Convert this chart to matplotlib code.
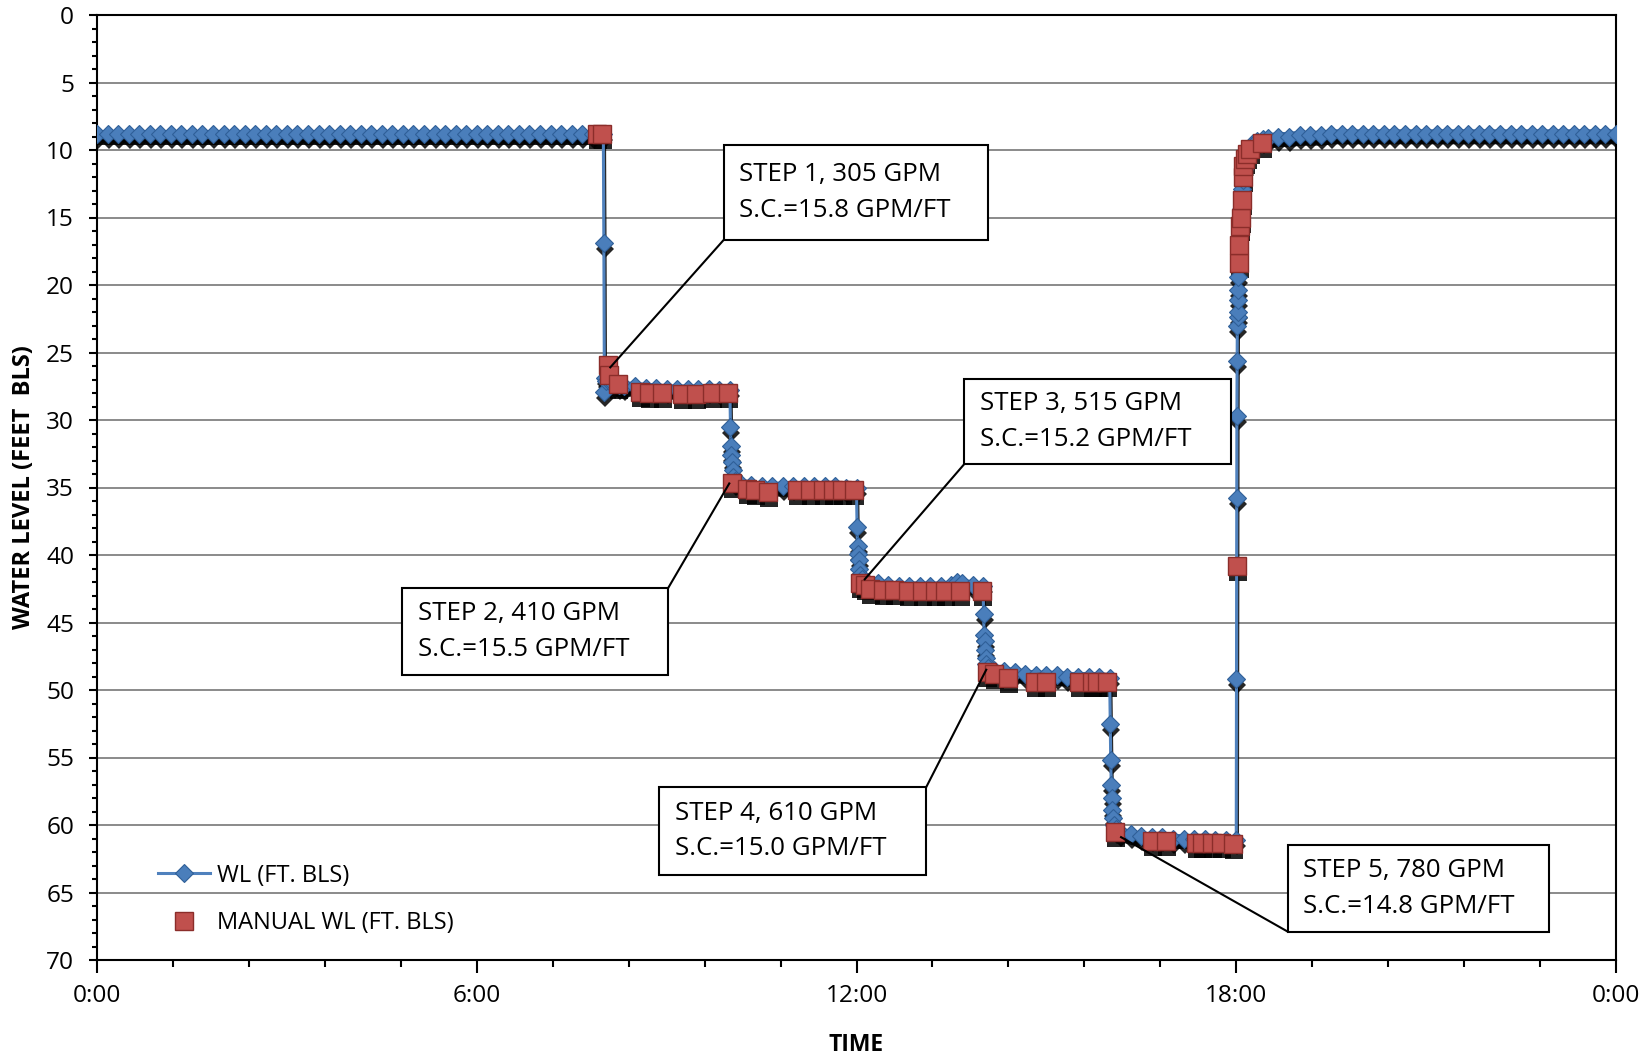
import numpy as np
import matplotlib
matplotlib.use('Agg')
import matplotlib.pyplot as plt
from matplotlib.patches import Rectangle
from matplotlib.ticker import MultipleLocator, FixedLocator, FixedFormatter
from matplotlib.transforms import ScaledTranslation

plt.rcParams['font.family'] = ['Open Sans', 'DejaVu Sans']

# transducer water level, minutes after 0:00 / feet below land surface
static_min = [0, 10, 20, 30, 40, 50, 60, 70, 80, 90, 100, 110, 120, 130, 140, 150,
              160, 170, 180, 190, 200, 210, 220, 230, 240, 250, 260, 270, 280, 290,
              300, 310, 320, 330, 340, 350, 360, 370, 380, 390, 400, 410, 420, 430,
              440, 450, 460, 470, 480]
static_wl = [8.8, 8.8, 8.8, 8.8, 8.8, 8.8, 8.8, 8.8, 8.8, 8.8, 8.8, 8.8, 8.8, 8.8,
             8.8, 8.8, 8.8, 8.8, 8.8, 8.8, 8.8, 8.8, 8.8, 8.8, 8.8, 8.8, 8.8, 8.8,
             8.8, 8.8, 8.8, 8.8, 8.8, 8.8, 8.8, 8.8, 8.8, 8.8, 8.8, 8.8, 8.8, 8.8,
             8.8, 8.8, 8.8, 8.8, 8.8, 8.8, 8.8]

step1_min = [480.5, 481, 481.5, 483, 486, 490, 495, 500, 510, 520, 530, 540, 550,
             560, 570, 580, 590, 600]
step1_wl = [16.9, 27.9, 26.9, 27.1, 27.2, 27.3, 27.4, 27.5, 27.5, 27.6, 27.6, 27.7,
            27.7, 27.7, 27.7, 27.7, 27.8, 27.8]

step2_min = [600.5, 601, 601.5, 602, 602.5, 603, 605, 610, 620, 630, 640, 650, 660,
             670, 680, 690, 700, 710, 720]
step2_wl = [30.5, 31.9, 32.6, 33.1, 33.7, 34.2, 34.5, 34.7, 34.8, 34.9, 34.9, 34.9,
            34.9, 34.9, 34.9, 34.9, 34.9, 35.0, 35.0]

step3_min = [720.5, 721, 721.5, 722, 722.5, 723, 725, 730, 740, 750, 760, 770, 780,
             790, 800, 810, 815, 820, 830, 840]
step3_wl = [37.9, 39.3, 39.9, 40.4, 41.0, 41.5, 41.8, 42.0, 42.1, 42.2, 42.3, 42.3,
            42.3, 42.3, 42.3, 42.2, 42.0, 42.1, 42.2, 42.3]

step4_min = [840.5, 841, 841.5, 842, 842.5, 843, 845, 850, 860, 870, 880, 890, 900,
             910, 920, 930, 940, 950, 960]
step4_wl = [44.4, 45.9, 46.4, 47.0, 47.6, 48.1, 48.4, 48.5, 48.6, 48.7, 48.8, 48.9,
            48.9, 48.9, 49.0, 49.0, 49.0, 49.0, 49.1]

step5_min = [960.5, 961, 961.5, 962, 962.5, 963, 964, 966, 970, 980, 990, 1000,
             1010, 1020, 1030, 1040, 1050, 1060, 1070, 1080]
step5_wl = [52.5, 55.2, 57.0, 58.0, 58.9, 59.5, 60.0, 60.3, 60.5, 60.7, 60.8, 60.9,
            60.9, 61.0, 61.0, 61.0, 61.0, 61.1, 61.1, 61.1]

recov_min = [1080.2, 1080.4, 1080.6, 1080.8, 1081, 1081.2, 1081.4, 1081.6, 1081.8,
             1082, 1082.5, 1083, 1083.5, 1084, 1084.5, 1085, 1085.5, 1086, 1087,
             1088, 1090, 1093, 1096, 1100, 1105, 1110, 1120, 1130, 1140, 1150, 1160,
             1170, 1180, 1190, 1200, 1210, 1220, 1230, 1240, 1250, 1260, 1270, 1280,
             1290, 1300, 1310, 1320, 1330, 1340, 1350, 1360, 1370, 1380, 1390, 1400,
             1410, 1420, 1430, 1440]
recov_wl = [49.2, 35.8, 29.7, 25.6, 23.0, 22.4, 22.0, 21.1, 20.4, 19.4, 18.4, 17.2,
            16.2, 15.2, 14.4, 13.6, 12.9, 12.2, 11.4, 10.8, 10.2, 9.8, 9.5, 9.3, 9.2,
            9.1, 9.0, 9.0, 8.9, 8.9, 8.9, 8.8, 8.8, 8.8, 8.8, 8.8, 8.8, 8.8, 8.8,
            8.8, 8.8, 8.8, 8.8, 8.8, 8.8, 8.8, 8.8, 8.8, 8.8, 8.8, 8.8, 8.8, 8.8,
            8.8, 8.8, 8.8, 8.8, 8.8, 8.8]

# manual tape readings
manual_min = [474, 479,
              484, 485, 494, 515, 523, 536, 555, 568, 583, 598,
              602, 616, 624, 636, 664, 676, 688, 698, 706, 718,
              723, 728, 733, 745, 756, 769, 782, 794, 804, 818, 839,
              844, 850, 864, 889, 900, 931, 943, 948, 957,
              965, 1000, 1013, 1042, 1048, 1057, 1066, 1077,
              1081, 1082.5, 1083, 1083.8, 1084.2, 1085, 1086, 1086.6, 1088, 1090,
              1093, 1104]
manual_wl = [8.8, 8.8,
             25.9, 26.7, 27.3, 27.9, 28.0, 28.0, 28.1, 28.1, 28.0, 28.0,
             34.7, 35.1, 35.2, 35.3, 35.2, 35.2, 35.2, 35.2, 35.2, 35.2,
             42.1, 42.2, 42.5, 42.6, 42.6, 42.7, 42.7, 42.7, 42.7, 42.7, 42.7,
             48.7, 48.8, 49.1, 49.4, 49.4, 49.4, 49.4, 49.4, 49.4,
             60.5, 61.2, 61.2, 61.3, 61.3, 61.3, 61.3, 61.4,
             40.8, 18.4, 17.0, 15.6, 15.0, 13.7, 12.0, 11.2, 10.7, 10.3,
             9.9, 9.5]

step_text = ['STEP 1, 305 GPM', 'STEP 2, 410 GPM', 'STEP 3, 515 GPM',
             'STEP 4, 610 GPM', 'STEP 5, 780 GPM']
sc_text = ['S.C.=15.8 GPM/FT', 'S.C.=15.5 GPM/FT', 'S.C.=15.2 GPM/FT',
           'S.C.=15.0 GPM/FT', 'S.C.=14.8 GPM/FT']

x_tick_labels = ['0:00', '6:00', '12:00', '18:00', '0:00']


def main():
    wl_min = static_min + step1_min + step2_min + step3_min + step4_min + step5_min + recov_min
    wl = static_wl + step1_wl + step2_wl + step3_wl + step4_wl + step5_wl + recov_wl
    wl_hr = np.array(wl_min) / 60.0
    man_hr = np.array(manual_min) / 60.0

    # the dense logger readings merge into a thick band on the flat parts
    flats = [(static_min, static_wl), (step1_min[3:], step1_wl[3:]),
             (step2_min[6:], step2_wl[6:]), (step3_min[6:], step3_wl[6:]),
             (step4_min[6:], step4_wl[6:]), (step5_min[7:], step5_wl[7:]),
             (recov_min[17:], recov_wl[17:])]

    fig = plt.figure(figsize=(16.5, 10.58), dpi=100)
    ax = fig.add_axes([97 / 1650, 1 - 960 / 1058, 1519 / 1650, 945 / 1058])

    blue = '#4f81bd'
    red = '#c0504d'

    # drop shadow under the series (Excel style)
    shadow = ax.transData + ScaledTranslation(1 / 100, -6 / 100, fig.dpi_scale_trans)
    for fm, fw in flats:
        ax.plot(np.array(fm) / 60.0, fw, color='black', lw=6.5, alpha=0.85,
                solid_capstyle='round', transform=shadow, zorder=2)
    ax.plot(wl_hr, wl, color='black', lw=2.5, marker='D', ms=9, mew=0,
            alpha=0.85, transform=shadow, zorder=2)
    ax.plot(man_hr, manual_wl, ls='none', color='black', marker='s', ms=13.5, mew=0,
            alpha=0.85, transform=shadow, zorder=2)

    for fm, fw in flats:
        ax.plot(np.array(fm) / 60.0, fw, color='#3f70ad', lw=6.5,
                solid_capstyle='round', zorder=3)
    ax.plot(wl_hr, wl, color=blue, lw=2.2, marker='D', ms=9, mfc='#4a7ebb',
            mec='#2f5f98', mew=0.8, zorder=3, label='WL (FT. BLS)')
    ax.plot(man_hr, manual_wl, ls='none', marker='s', ms=13.5, mfc=red,
            mec='#8b2d2a', mew=1.0, zorder=4, label='MANUAL WL (FT. BLS)')

    # axes
    ax.set_xlim(0, 24)
    ax.set_ylim(70, 0)
    ax.xaxis.set_major_locator(FixedLocator([0, 6, 12, 18, 24]))
    ax.xaxis.set_major_formatter(FixedFormatter(x_tick_labels))
    ax.xaxis.set_minor_locator(MultipleLocator(1.2))
    ax.yaxis.set_major_locator(MultipleLocator(5))
    ax.yaxis.set_minor_locator(MultipleLocator(1))

    ax.yaxis.grid(True, which='major', color='#8a8a8a', lw=1.4)
    ax.xaxis.grid(False)
    ax.set_axisbelow(True)

    for sp in ax.spines.values():
        sp.set_color('black')
        sp.set_linewidth(1.5)

    ax.tick_params(axis='x', which='major', direction='out', length=9, width=1.5,
                   pad=8.5, labelsize=17.6)
    ax.tick_params(axis='x', which='minor', direction='out', length=5, width=1.5)
    ax.tick_params(axis='y', which='major', direction='out', length=5.5, width=1.5,
                   pad=11, labelsize=17.6)
    ax.tick_params(axis='y', which='minor', direction='out', length=3.5, width=1.5)

    ax.set_xlabel('TIME', fontsize=16.5, fontweight='bold', labelpad=18)
    ax.set_ylabel('WATER LEVEL (FEET  BLS)', fontsize=17, fontweight='bold', labelpad=7)

    # annotation boxes
    box_x0 = [9.90, 4.82, 13.70, 8.88, 18.81]
    box_x1 = [14.08, 9.02, 17.92, 13.10, 22.94]
    box_top = [9.63, 42.48, 26.97, 57.21, 61.50]
    box_bot = [16.67, 48.87, 33.28, 63.68, 67.89]
    corner = ['bl', 'tr', 'bl', 'tr', 'bl']
    target_x = [8.11, 9.99, 12.13, 14.05, 16.18]
    target_y = [26.1, 34.7, 41.8, 48.5, 60.9]

    for i in range(5):
        ax.add_patch(Rectangle((box_x0[i], box_top[i]), box_x1[i] - box_x0[i],
                               box_bot[i] - box_top[i], facecolor='white',
                               edgecolor='black', lw=1.5, zorder=6))
        ax.text(box_x0[i] + 0.25, (box_top[i] + box_bot[i]) / 2,
                step_text[i] + '\n' + sc_text[i], ha='left', va='center',
                fontsize=18.6, linespacing=1.55, zorder=7)
        if corner[i] == 'bl':
            cx, cy = box_x0[i], box_bot[i]
        else:
            cx, cy = box_x1[i], box_top[i]
        ax.plot([cx, target_x[i]], [cy, target_y[i]], color='black', lw=1.5, zorder=5)

    ax.legend(loc='upper left', bbox_to_anchor=(0.040, 0.102), frameon=False,
              fontsize=17, handlelength=2.2, handletextpad=0.3, labelspacing=1.0,
              borderpad=0, borderaxespad=0, numpoints=1)

    fig.savefig('out.png', dpi=100)


if __name__ == '__main__':
    main()
